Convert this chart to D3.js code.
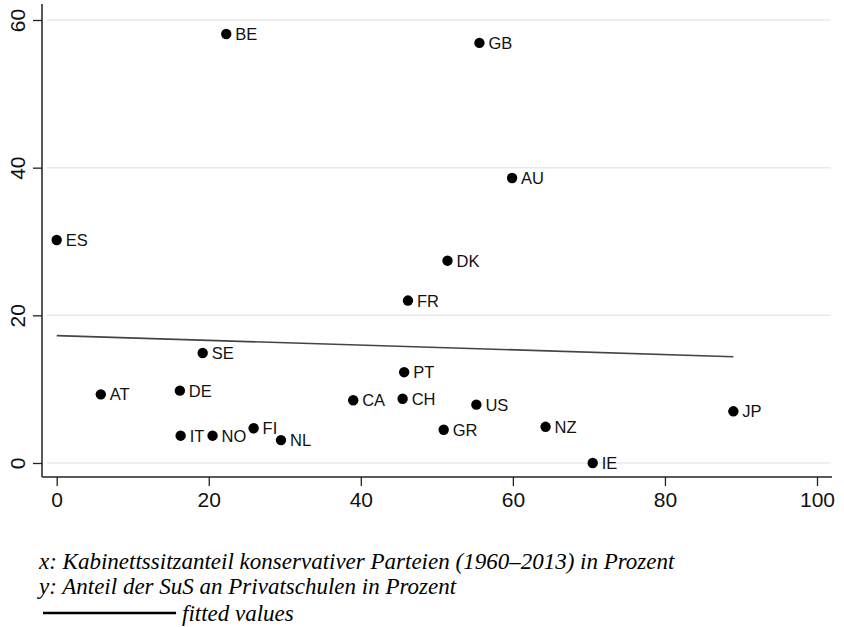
<!DOCTYPE html>
<html>
<head>
<meta charset="utf-8">
<script src="https://cdn.jsdelivr.net/npm/d3@7"></script>
<style>
  body { margin: 0; background: #fff; }
  svg { display: block; }
</style>
</head>
<body>
<div id="chart"></div>
<script>
"use strict";
// country codes with x = cabinet share of conservatives, y = share of pupils in private schools
var countries = ["BE", "GB", "AU", "ES", "DK", "FR", "SE", "PT", "AT", "DE", "CA",
  "CH", "US", "JP", "GR", "NZ", "IT", "NO", "FI", "NL", "IE"];
var xValues = [22.3, 55.6, 59.9, 0, 51.4, 46.2, 19.2, 45.7, 5.8, 16.2, 39.0,
  45.5, 55.2, 89.0, 50.9, 64.3, 16.3, 20.5, 25.9, 29.5, 70.5];
var yValues = [58.1, 56.9, 38.6, 30.2, 27.4, 22.0, 14.9, 12.3, 9.3, 9.8, 8.5,
  8.7, 7.9, 7.0, 4.5, 4.9, 3.7, 3.7, 4.7, 3.1, 0];

// fitted values (linear fit), end points
var fitX = [0, 89.0];
var fitY = [17.25, 14.4];

var xTicks = [0, 20, 40, 60, 80, 100];
var yTicks = [0, 20, 40, 60];

var notes = [
  "x: Kabinettssitzanteil konservativer Parteien (1960\u20132013) in Prozent",
  "y: Anteil der SuS an Privatschulen in Prozent"
];
var legendLabel = "fitted values";

var w = 844,
  h = 627;

var svg = d3
  .select("#chart")
  .append("svg")
  .attr("width", w)
  .attr("height", h);

var x = d3.scaleLinear().domain([0, 100]).range([56.7, 817]);
var y = d3.scaleLinear().domain([0, 60]).range([463, 20]);

var axisX = 42,
  axisY = 477;

//grid lines
svg
  .append("g")
  .selectAll("line")
  .data(yTicks)
  .enter()
  .append("line")
  .attr("x1", 47)
  .attr("x2", 831)
  .attr("y1", function(d) { return y(d); })
  .attr("y2", function(d) { return y(d); })
  .attr("stroke", "#eaeaea")
  .attr("stroke-width", 1.5);

//axes
var gx = svg
  .append("g")
  .attr("transform", "translate(0," + axisY + ")")
  .call(d3.axisBottom(x).tickValues(xTicks).tickSize(9).tickPadding(6).tickFormat(d3.format("d")));
gx.select(".domain").attr("d", "M" + axisX + ",0H832");

var gy = svg
  .append("g")
  .attr("transform", "translate(" + axisX + ",0)")
  .call(d3.axisLeft(y).tickValues(yTicks).tickSize(9).tickPadding(6).tickFormat(d3.format("d")));
gy.select(".domain").attr("d", "M0,4V" + axisY);

svg.selectAll(".domain").attr("stroke", "#222").attr("stroke-width", 1.5);
svg.selectAll(".tick line").attr("stroke", "#222").attr("stroke-width", 1.3);
svg
  .selectAll(".tick text")
  .attr("fill", "#111")
  .style("font-family", "'Liberation Sans', Arial, sans-serif")
  .style("font-size", "21px");

gy.selectAll(".tick text")
  .attr("x", null)
  .attr("dy", null)
  .attr("text-anchor", "middle")
  .attr("transform", "translate(-17,0) rotate(-90)");

//fitted line
var fit = fitX.map(function(d, i) { return { x: d, y: fitY[i] }; });
svg
  .append("path")
  .datum(fit)
  .attr("fill", "none")
  .attr("stroke", "#444")
  .attr("stroke-width", 1.6)
  .attr("d", d3.line().x(function(d) { return x(d.x); }).y(function(d) { return y(d.y); }));

//points and labels
var pts = countries.map(function(c, i) {
  return { name: c, x: xValues[i], y: yValues[i] };
});

var pg = svg.append("g").selectAll("g").data(pts).enter().append("g");

pg.append("circle")
  .attr("cx", function(d) { return x(d.x); })
  .attr("cy", function(d) { return y(d.y); })
  .attr("r", 5.2)
  .attr("fill", "#000");

pg.append("text")
  .attr("x", function(d) { return x(d.x) + 9; })
  .attr("y", function(d) { return y(d.y) + 6; })
  .style("font-family", "'Liberation Sans', Arial, sans-serif")
  .style("font-size", "16.5px")
  .attr("fill", "#111")
  .text(function(d) { return d.name; });

//notes below the chart
var ng = svg
  .append("g")
  .style("font-family", "'Liberation Serif', 'Times New Roman', serif")
  .style("font-style", "italic")
  .style("font-size", "23px")
  .attr("fill", "#000");

ng.selectAll("text")
  .data(notes)
  .enter()
  .append("text")
  .attr("x", 39)
  .attr("y", function(d, i) { return 569 + i * 25; })
  .text(function(d) { return d; });

ng.append("line")
  .attr("x1", 43)
  .attr("x2", 176)
  .attr("y1", 613)
  .attr("y2", 613)
  .attr("stroke", "#000")
  .attr("stroke-width", 2.5);

ng.append("text")
  .attr("x", 182)
  .attr("y", 621)
  .text(legendLabel);
</script>
</body>
</html>
